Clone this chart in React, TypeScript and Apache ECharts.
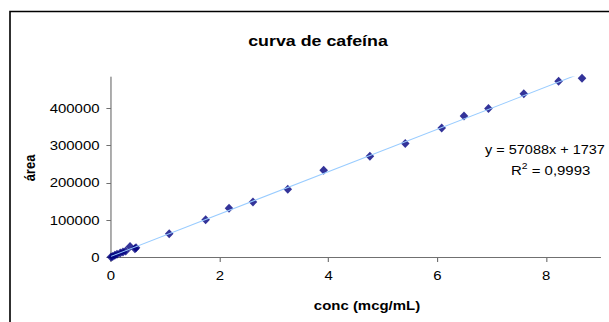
import React, { useEffect, useRef } from "react";
import * as echarts from "echarts";

const titleText = "curva de cafeína";
const xAxisTitle = "conc (mcg/mL)";
const yAxisTitle = "área";
const conc = [0, 0.03, 0.07, 0.11, 0.17, 0.22, 0.27, 0.35, 0.44, 0.46, 1.07, 1.74, 2.17, 2.61, 3.25, 3.91, 4.76, 5.41, 6.08, 6.49, 6.94, 7.59, 8.23, 8.66];
const area = [0, 1500, 4500, 7500, 11000, 13500, 16000, 28000, 22000, 25000, 62900, 100700, 131200, 148300, 182500, 233700, 271500, 305600, 347900, 380200, 400000, 439600, 473700, 481800];
const xTicks = [0, 2, 4, 6, 8];
const yTicks = [0, 100000, 200000, 300000, 400000];
const slope = 57088;
const intercept = 1737;
const equationText = "y = 57088x + 1737";
const r2Text = "0,9993";

const FONT = "'Liberation Sans', Arial, sans-serif";
// the reference's text is drawn a little wider than it is tall
const S = 1.15;
const W = 609 / S;
const px = (v: number) => v / S;

export default function App() {
  const ref = useRef<HTMLDivElement>(null);
  useEffect(() => {
    if (!ref.current) return;
    const chart = echarts.init(ref.current, null, { renderer: "svg" });
    const xMin = Math.min(...conc);
    const xMax = Math.max(...conc);
    const trend = [
      [xMin, slope * xMin + intercept],
      [xMax, slope * xMax + intercept],
    ];
    chart.setOption({
      animation: false,
      backgroundColor: "#ffffff",
      textStyle: { fontFamily: FONT },
      grid: { left: px(111), top: 77, right: px(9), bottom: 65, containLabel: false },
      xAxis: {
        type: "value",
        min: 0,
        max: 9,
        interval: 2,
        axisLine: { show: true, lineStyle: { color: "#707070", width: 1 } },
        axisTick: { show: true, length: 5, inside: false, customValues: xTicks, lineStyle: { color: "#707070" } },
        axisLabel: { customValues: xTicks, color: "#000", fontSize: 13, margin: 12, fontFamily: FONT },
        splitLine: { show: false },
      },
      yAxis: {
        type: "value",
        min: 0,
        max: 485000,
        interval: 100000,
        axisLine: { show: true, lineStyle: { color: "#707070", width: 1 } },
        axisTick: { show: true, length: 4, inside: false, customValues: yTicks, lineStyle: { color: "#707070" } },
        axisLabel: {
          customValues: yTicks,
          color: "#000",
          fontSize: 13,
          margin: 10,
          fontFamily: FONT,
          formatter: (v: number) => String(v),
        },
        splitLine: { show: false },
      },
      series: [
        {
          type: "scatter",
          data: conc.map((c, i) => [c, area[i]]),
          symbol: "diamond",
          symbolSize: [7.5, 9],
          itemStyle: { color: "#000080" },
          z: 2,
        },
        {
          type: "line",
          data: trend,
          showSymbol: false,
          symbol: "none",
          clip: true,
          lineStyle: { color: "#99CCFF", width: 1 },
          z: 3,
        },
      ],
      graphic: [
        {
          type: "rect",
          shape: { x: px(10), y: 11.5, width: 700, height: 400 },
          style: { fill: "none", stroke: "#000", lineWidth: 1.4 },
          silent: true,
        },
        {
          type: "text",
          x: px(318),
          y: 41,
          style: { text: titleText, font: `bold 15.5px ${FONT}`, fill: "#000", align: "center", verticalAlign: "middle" },
        },
        {
          type: "text",
          x: px(367),
          y: 305,
          style: { text: xAxisTitle, font: `bold 13px ${FONT}`, fill: "#000", align: "center", verticalAlign: "middle" },
        },
        {
          type: "text",
          x: px(30),
          y: 168,
          rotation: Math.PI / 2,
          style: { text: yAxisTitle, font: `bold 13px ${FONT}`, fill: "#000", align: "center", verticalAlign: "middle" },
        },
        {
          type: "text",
          x: px(485),
          y: 150,
          style: { text: equationText, font: `12.6px ${FONT}`, fill: "#000", align: "left", verticalAlign: "middle" },
        },
        {
          type: "text",
          x: px(511),
          y: 170,
          style: {
            text: "R{sup|2} = " + r2Text,
            font: `13px ${FONT}`,
            fill: "#000",
            align: "left",
            verticalAlign: "middle",
            rich: {
              sup: { fontSize: 9, verticalAlign: "top", padding: [0, 0, 8, 0], fontFamily: FONT },
            },
          },
        },
      ],
    });
    return () => chart.dispose();
  }, []);
  return (
    <div
      style={{ position: "fixed", left: 0, top: 0, width: 609, height: 322, overflow: "hidden", background: "#fff" }}
    >
      <div
        ref={ref}
        style={{ width: W, height: 322, transform: `scaleX(${S})`, transformOrigin: "0 0" }}
      />
    </div>
  );
}
